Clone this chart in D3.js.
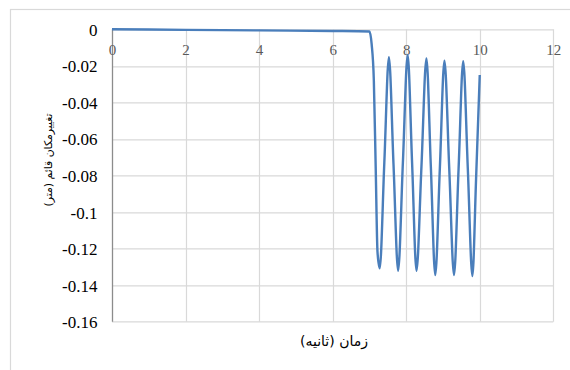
<!DOCTYPE html>
<html>
<head>
<meta charset="utf-8">
<script src="https://cdnjs.cloudflare.com/ajax/libs/d3/7.8.5/d3.min.js"></script>
<style>
  body { margin: 0; background: #fff; }
</style>
</head>
<body>
<div id="chartArea"></div>
<script>
// time (s) and vertical displacement (m)
var times = [0, 2, 4, 6, 7.0, 7.06, 7.12, 7.17, 7.22, 7.28,
  7.405, 7.53, 7.655, 7.78, 7.91, 8.04, 8.16, 8.28, 8.415, 8.55,
  8.67, 8.79, 8.915, 9.04, 9.17, 9.30, 9.425, 9.55, 9.675, 9.80, 9.90, 10.0];
var disp = [0, -0.0003, -0.0006, -0.0009, -0.0012, -0.008, -0.028, -0.075, -0.122, -0.1308,
  -0.073, -0.0153, -0.074, -0.1321, -0.073, -0.0141, -0.073, -0.1321, -0.075, -0.0159,
  -0.075, -0.1345, -0.076, -0.0172, -0.076, -0.1345, -0.076, -0.0175, -0.076, -0.135, -0.082, -0.025];

var xTicks = [0, 2, 4, 6, 8, 10, 12];
var yTicks = [0, -0.02, -0.04, -0.06, -0.08, -0.1, -0.12, -0.14, -0.16];

var xTitle = "زمان (ثانیه)";
var yTitle = "تغییرمکان قائم (متر)";

var W = 570, H = 370;
var margin = { top: 29.3, right: 16.7, bottom: 48.3, left: 112 },
  width = W - margin.left - margin.right,
  height = H - margin.top - margin.bottom;

var svg = d3.select("#chartArea").append("svg")
  .attr("width", W)
  .attr("height", H);

// outer chart border
svg.append("rect")
  .attr("x", 10.5)
  .attr("y", 9.5)
  .attr("width", W)
  .attr("height", H)
  .attr("fill", "white")
  .attr("stroke", "#d9d9d9")
  .attr("stroke-width", 1.2);

var g = svg.append("g")
  .attr("transform", "translate(" + margin.left + "," + margin.top + ")");

var x = d3.scaleLinear().domain([0, 12]).range([0, width]);
var y = d3.scaleLinear().domain([-0.16, 0]).range([height, 0]);

// gridlines
g.append("g")
  .selectAll("line")
  .data(yTicks)
  .enter().append("line")
  .attr("x1", 0).attr("x2", width)
  .attr("y1", function (d) { return Math.round(y(d)) + 0.5; })
  .attr("y2", function (d) { return Math.round(y(d)) + 0.5; })
  .attr("stroke", "#d9d9d9")
  .attr("stroke-width", 1.2);

g.append("g")
  .selectAll("line")
  .data(xTicks.slice(1))
  .enter().append("line")
  .attr("y1", 0).attr("y2", height)
  .attr("x1", function (d) { return Math.round(x(d)) + 0.5; })
  .attr("x2", function (d) { return Math.round(x(d)) + 0.5; })
  .attr("stroke", "#d9d9d9")
  .attr("stroke-width", 1.2);

// y axis line
g.append("line")
  .attr("x1", 0.5).attr("x2", 0.5)
  .attr("y1", 0).attr("y2", height)
  .attr("stroke", "#8c8c8c")
  .attr("stroke-width", 1.3);

// x tick labels (axis sits at the top, labels below it)
var xAxis = d3.axisTop(x).tickValues(xTicks).tickSize(0).tickFormat(d3.format("d"));
var xg = g.append("g").call(xAxis);
xg.select(".domain").remove();
xg.selectAll("text")
  .attr("y", 26)
  .attr("dy", 0)
  .attr("fill", "#595959")
  .style("font-family", "Liberation Serif")
  .style("font-size", "15px");

// y tick labels
var yAxis = d3.axisLeft(y).tickValues(yTicks).tickSize(0)
  .tickFormat(function (d) { return String(+d.toFixed(2)); });
var yg = g.append("g").call(yAxis);
yg.select(".domain").remove();
yg.selectAll("text")
  .attr("x", -14.5)
  .attr("dy", "0.35em")
  .attr("fill", "#000")
  .style("font-family", "Liberation Serif")
  .style("font-size", "17px");

// data line
var line = d3.line()
  .x(function (d) { return x(d[0]); })
  .y(function (d) { return y(d[1]); })
  .curve(d3.curveMonotoneX);

g.append("path")
  .datum(d3.zip(times, disp))
  .attr("d", line)
  .attr("fill", "none")
  .attr("stroke", "#4a7ebb")
  .attr("stroke-width", 2.4)
  .attr("stroke-linejoin", "round");

// axis titles, sized to the widths seen in the picture
function fitText(sel, target, size) {
  sel.style("font-size", size + "px");
  var len = sel.node().getComputedTextLength();
  if (len > 0) sel.style("font-size", (size * target / len) + "px");
}

var xt = svg.append("text")
  .attr("x", 334)
  .attr("y", 346)
  .attr("text-anchor", "middle")
  .attr("direction", "rtl")
  .style("font-family", "DejaVu Sans")
  .attr("fill", "#000")
  .text(xTitle);
fitText(xt, 68, 13.5);

var yt = svg.append("text")
  .attr("transform", "translate(52,160) rotate(-90)")
  .attr("text-anchor", "middle")
  .attr("direction", "rtl")
  .style("font-family", "DejaVu Sans")
  .attr("fill", "#000")
  .text(yTitle);
fitText(yt, 93, 12.5);
</script>
</body>
</html>
